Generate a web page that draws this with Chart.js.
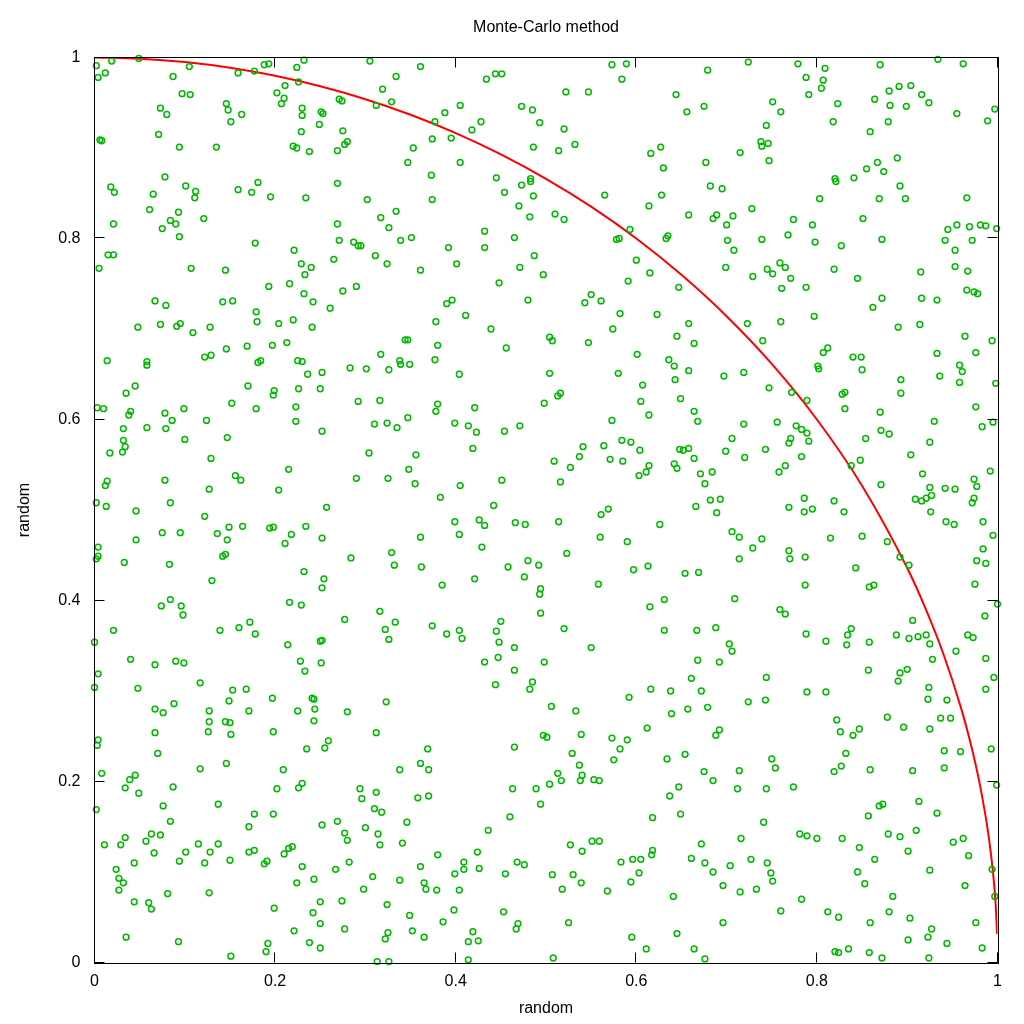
<!DOCTYPE html>
<html>
<head>
<meta charset="utf-8">
<script src="https://cdn.jsdelivr.net/npm/chart.js@4.4.0/dist/chart.umd.min.js"></script>
<style>
html, body { margin: 0; padding: 0; background: #fff; }
#wrap { width: 1024px; height: 1024px; }
</style>
</head>
<body>
<div id="wrap"><canvas id="mcChart" width="1024" height="1024"></canvas></div>
<script>
// random sample points
var pointX = [
0.002,0.019,0.049,0.004,0.012,0.087,0.105,0.159,0.177,0.188,
0.193,0.224,0.232,0.305,0.226,0.211,0.202,0.210,0.207,0.097,
0.106,0.073,0.080,0.146,0.148,0.163,0.151,0.230,0.230,0.251,
0.253,0.249,0.271,0.274,0.319,0.312,0.229,0.275,0.071,0.006,
0.008,0.094,0.135,0.220,0.224,0.238,0.269,0.277,0.280,0.078,
0.018,0.022,0.065,0.101,0.112,0.111,0.159,0.174,0.181,0.195,
0.234,0.269,0.302,0.061,0.093,0.121,0.084,0.090,0.075,0.021,
0.094,0.178,0.269,0.271,0.317,0.326,0.287,0.292,0.295,0.311,
0.324,0.015,0.021,0.005,0.107,0.145,0.221,0.229,0.240,0.233,
0.265,0.193,0.216,0.232,0.242,0.275,0.290,0.261,0.067,0.079,
0.142,0.153,0.179,0.180,0.204,0.220,0.241,0.048,0.073,0.091,
0.095,0.109,0.128,0.146,0.169,0.197,0.213,
0.329,0.334,0.361,0.434,0.444,0.451,0.573,0.589,0.584,0.522,
0.547,0.644,0.656,0.405,0.388,0.377,0.473,0.485,0.493,0.428,
0.418,0.374,0.395,0.353,0.347,0.405,0.373,0.486,0.514,0.532,
0.520,0.616,0.627,0.630,0.445,0.483,0.483,0.473,0.454,0.486,
0.374,0.334,0.470,0.482,0.510,0.520,0.565,0.614,0.628,0.658,
0.432,0.339,0.351,0.392,0.432,0.465,0.593,0.578,0.581,0.633,
0.635,0.487,0.401,0.361,0.471,0.497,0.600,0.615,0.448,0.591,
0.647,0.550,0.543,0.561,0.396,0.390,0.480,0.411,0.378,0.582,
0.623,0.658,0.439,0.574,0.645,0.344,0.347,0.380,0.456,0.504,
0.507,0.547,
0.679,0.724,0.779,0.809,0.788,0.807,0.805,0.791,0.870,0.934,
0.962,0.675,0.751,0.760,0.823,0.818,0.864,0.880,0.891,0.904,
0.916,0.924,0.881,0.899,0.879,0.859,0.955,0.989,0.997,0.744,
0.738,0.739,0.746,0.747,0.715,0.677,0.682,0.695,0.820,0.821,
0.841,0.855,0.867,0.874,0.889,0.892,0.803,0.869,0.898,0.966,
0.728,0.689,0.685,0.707,0.700,0.774,0.795,0.851,0.701,0.708,
0.739,0.768,0.798,0.827,0.872,0.945,0.955,0.969,0.981,0.987,
0.999,0.942,0.972,0.953,0.699,0.729,0.745,0.751,0.759,0.765,
0.771,0.761,0.788,0.819,0.845,0.915,0.953,0.967,0.966,0.974,
0.978,0.872,0.862,0.916,0.933,0.723,0.760,0.797,0.890,0.914,
0.964,0.994,0.664,0.740,0.812,0.807,0.976,0.933,
0.014,0.058,0.058,0.122,0.129,0.181,0.184,0.225,0.230,0.317,
0.252,0.236,0.283,0.301,0.326,0.045,0.035,0.170,0.199,0.198,
0.226,0.250,0.003,0.010,0.040,0.038,0.078,0.099,0.152,0.179,
0.223,0.292,0.316,0.032,0.058,0.079,0.086,0.124,0.223,0.252,
0.310,0.324,0.032,0.034,0.031,0.017,0.100,0.147,0.129,0.304,
0.215,0.014,0.012,0.078,0.156,0.162,0.127,0.204,0.290,0.325,
0.002,0.013,0.046,0.084,0.122,0.257,0.075,0.095,0.046,0.136,
0.149,0.164,0.194,0.198,0.234,0.147,0.218,0.211,0.252,0.004,
0.004,0.002,0.033,0.083,0.142,0.145,0.284,0.130,0.232,0.254,
0.252,0.084,0.074,0.096,0.098,0.216,0.229,0.021,0.139,0.160,
0.172,0.178,0.277,0.316,0.322,0.326,0.000,0.214,0.250,0.252,
0.338,0.339,0.349,0.377,0.404,0.504,0.580,0.601,0.636,0.642,
0.658,0.643,0.607,0.605,0.614,0.649,0.380,0.378,0.421,0.498,
0.513,0.516,0.347,0.335,0.399,0.414,0.423,0.454,0.471,0.573,
0.356,0.348,0.419,0.355,0.405,0.451,0.509,0.527,0.537,0.541,
0.564,0.571,0.584,0.594,0.585,0.604,0.614,0.611,0.603,0.648,
0.652,0.658,0.642,0.645,0.516,0.383,0.442,0.561,0.569,0.626,
0.399,0.426,0.432,0.466,0.477,0.514,0.361,0.404,0.429,0.560,
0.590,0.329,0.332,0.362,0.523,0.480,0.458,0.492,0.476,0.421,
0.385,0.494,0.493,0.558,0.597,0.613,0.654,0.631,0.615,0.494,
0.333,0.374,0.390,0.404,0.407,0.445,0.450,0.448,0.465,0.520,
0.550,0.631,
0.840,0.849,0.801,0.802,0.850,0.697,0.719,0.747,0.772,0.789,
0.828,0.831,0.831,0.893,0.893,0.936,0.958,0.961,0.958,0.998,
0.976,0.664,0.668,0.719,0.756,0.777,0.783,0.789,0.791,0.771,
0.769,0.706,0.699,0.720,0.743,0.783,0.664,0.870,0.930,0.983,
0.995,0.871,0.880,0.854,0.925,0.904,0.765,0.758,0.838,0.848,
0.671,0.684,0.676,0.992,0.917,0.871,0.925,0.942,0.953,0.974,
0.977,0.682,0.693,0.666,0.689,0.786,0.769,0.786,0.795,0.819,
0.830,0.909,0.916,0.921,0.927,0.926,0.974,0.972,0.943,0.952,
0.984,0.706,0.714,0.739,0.729,0.815,0.850,0.995,0.769,0.770,
0.787,0.714,0.878,0.892,0.902,0.843,0.984,0.977,0.987,0.669,
0.787,0.858,0.863,0.975,0.709,1.000,0.759,0.765,0.986,0.906,
0.667,0.688,0.838,0.834,0.788,0.810,0.858,0.833,0.888,0.902,
0.912,0.921,0.925,0.967,0.973,0.703,0.706,0.954,
0.040,0.067,0.090,0.099,0.004,0.000,0.048,0.117,0.153,0.168,
0.149,0.228,0.251,0.233,0.197,0.241,0.243,0.244,0.225,0.171,
0.127,0.088,0.067,0.076,0.127,0.145,0.150,0.126,0.151,0.067,
0.243,0.280,0.323,0.312,0.198,0.259,0.255,0.235,0.004,0.003,
0.070,0.146,0.117,0.209,0.008,0.045,0.039,0.034,0.049,0.087,
0.230,0.226,0.202,0.294,0.312,0.296,0.002,0.076,0.137,0.177,
0.198,0.310,0.318,0.084,0.171,0.269,0.252,0.277,0.280,0.300,
0.314,0.316,0.011,0.029,0.034,0.057,0.063,0.073,0.115,0.137,
0.066,0.101,0.128,0.171,0.177,0.210,0.215,0.219,0.044,0.094,
0.122,0.150,0.188,0.191,0.230,0.282,0.267,0.024,0.027,0.032,
0.027,0.224,0.243,0.308,0.298,0.081,0.127,0.044,0.060,0.063,
0.199,0.250,0.274,0.242,0.324,0.250,0.221,0.277,0.325,0.322,
0.035,0.093,0.192,0.190,0.238,0.250,0.151,0.313,0.326,
0.432,0.447,0.498,0.465,0.444,0.485,0.482,0.506,0.533,0.592,
0.616,0.638,0.661,0.639,0.657,0.612,0.497,0.501,0.539,0.573,
0.590,0.582,0.529,0.575,0.634,0.654,0.369,0.361,0.338,0.370,
0.465,0.537,0.540,0.513,0.517,0.538,0.504,0.553,0.559,0.463,
0.489,0.358,0.370,0.494,0.647,0.637,0.618,0.649,0.346,0.460,
0.436,0.341,0.527,0.540,0.551,0.559,0.618,0.617,0.661,0.380,
0.424,0.361,0.409,0.409,0.426,0.399,0.468,0.476,0.455,0.507,
0.530,0.539,0.518,0.568,0.583,0.596,0.605,0.603,0.594,0.338,
0.365,0.367,0.379,0.404,0.641,0.349,0.398,0.386,0.453,0.352,
0.365,0.419,0.414,0.425,0.469,0.467,0.525,0.595,0.611,0.645,
0.414,0.508,
0.668,0.692,0.744,0.672,0.679,0.724,0.743,0.789,0.810,0.857,
0.892,0.900,0.890,0.928,0.924,0.923,0.944,0.987,0.996,0.987,
0.692,0.688,0.822,0.826,0.847,0.840,0.878,0.896,0.925,0.937,
0.948,0.832,0.750,0.754,0.675,0.714,0.685,0.712,0.744,0.774,
0.819,0.827,0.859,0.906,0.941,0.941,0.959,0.993,0.999,0.913,
0.869,0.873,0.857,0.933,0.741,0.672,0.716,0.781,0.789,0.800,
0.828,0.879,0.892,0.910,0.847,0.901,0.951,0.962,0.968,0.676,
0.685,0.704,0.727,0.745,0.749,0.751,0.696,0.715,0.733,0.864,
0.845,0.853,0.925,0.994,0.964,0.997,0.783,0.884,0.760,0.812,
0.824,0.880,0.903,0.696,0.859,0.976,0.927,0.923,0.901,0.944,
0.983,0.664,0.676,0.820,0.824,0.835,0.858,0.872,0.924
];
var pointY = [
0.991,0.996,0.999,0.978,0.983,0.979,0.990,0.983,0.985,0.992,
0.993,0.989,0.997,0.996,0.973,0.969,0.961,0.955,0.949,0.960,
0.959,0.944,0.937,0.949,0.942,0.937,0.929,0.944,0.936,0.940,
0.938,0.926,0.954,0.952,0.965,0.947,0.918,0.919,0.915,0.909,
0.908,0.901,0.901,0.902,0.900,0.896,0.897,0.904,0.907,0.868,
0.857,0.851,0.849,0.858,0.852,0.845,0.854,0.851,0.862,0.846,
0.845,0.861,0.843,0.832,0.829,0.822,0.820,0.816,0.811,0.816,
0.802,0.795,0.816,0.798,0.823,0.812,0.796,0.792,0.792,0.781,
0.772,0.782,0.782,0.767,0.767,0.765,0.787,0.772,0.768,0.760,
0.777,0.747,0.750,0.739,0.730,0.742,0.747,0.723,0.731,0.726,
0.730,0.731,0.719,0.708,0.706,0.710,0.702,0.702,0.705,0.703,
0.706,0.696,0.702,0.678,0.681,0.682,0.685,
0.951,0.979,0.990,0.976,0.982,0.982,0.992,0.993,0.976,0.962,
0.962,0.959,0.940,0.947,0.939,0.929,0.946,0.942,0.928,0.929,
0.920,0.910,0.911,0.900,0.884,0.884,0.870,0.901,0.897,0.904,
0.921,0.894,0.901,0.878,0.867,0.866,0.863,0.859,0.851,0.847,
0.843,0.830,0.836,0.824,0.827,0.821,0.848,0.836,0.848,0.826,
0.808,0.798,0.801,0.790,0.790,0.801,0.810,0.799,0.800,0.800,
0.803,0.781,0.772,0.765,0.768,0.760,0.776,0.762,0.751,0.753,
0.746,0.738,0.729,0.731,0.732,0.728,0.732,0.715,0.708,0.717,
0.716,0.706,0.700,0.700,0.692,0.688,0.688,0.682,0.679,0.691,
0.687,0.685,
0.986,0.995,0.993,0.988,0.978,0.975,0.966,0.959,0.992,0.998,
0.993,0.946,0.951,0.940,0.949,0.929,0.954,0.963,0.968,0.969,
0.959,0.950,0.947,0.946,0.929,0.918,0.938,0.930,0.943,0.925,
0.907,0.902,0.905,0.886,0.895,0.884,0.858,0.855,0.866,0.863,
0.867,0.877,0.884,0.874,0.889,0.858,0.844,0.844,0.844,0.845,
0.833,0.826,0.822,0.825,0.815,0.821,0.815,0.822,0.798,0.787,
0.799,0.804,0.796,0.792,0.799,0.810,0.815,0.813,0.815,0.814,
0.811,0.798,0.798,0.787,0.768,0.758,0.766,0.761,0.773,0.768,
0.756,0.745,0.746,0.766,0.756,0.763,0.769,0.764,0.743,0.741,
0.739,0.734,0.724,0.734,0.732,0.706,0.708,0.714,0.702,0.705,
0.692,0.687,0.684,0.687,0.679,0.674,0.674,0.673,
0.665,0.664,0.660,0.669,0.671,0.663,0.665,0.665,0.664,0.672,
0.652,0.650,0.657,0.656,0.655,0.637,0.629,0.637,0.632,0.627,
0.634,0.634,0.613,0.612,0.609,0.605,0.607,0.612,0.618,0.612,
0.614,0.620,0.621,0.590,0.591,0.590,0.599,0.599,0.598,0.587,
0.595,0.596,0.577,0.570,0.564,0.563,0.578,0.580,0.557,0.563,
0.545,0.532,0.527,0.533,0.538,0.533,0.523,0.522,0.535,0.535,
0.508,0.504,0.499,0.508,0.493,0.503,0.475,0.475,0.467,0.474,
0.481,0.482,0.480,0.481,0.482,0.467,0.473,0.463,0.469,0.459,
0.449,0.446,0.442,0.440,0.449,0.451,0.447,0.422,0.432,0.424,
0.414,0.401,0.394,0.394,0.384,0.398,0.395,0.367,0.367,0.370,
0.376,0.363,0.379,0.388,0.368,0.357,0.354,0.351,0.355,0.356,
0.665,0.661,0.661,0.666,0.650,0.651,0.651,0.672,0.666,0.659,
0.654,0.644,0.638,0.620,0.605,0.623,0.617,0.609,0.613,0.618,
0.626,0.629,0.602,0.591,0.596,0.593,0.586,0.587,0.593,0.599,
0.561,0.545,0.568,0.529,0.527,0.533,0.554,0.547,0.559,0.570,
0.571,0.556,0.577,0.575,0.554,0.566,0.549,0.542,0.538,0.567,
0.566,0.568,0.551,0.546,0.531,0.514,0.505,0.495,0.501,0.484,
0.487,0.489,0.483,0.486,0.484,0.487,0.470,0.473,0.459,0.470,
0.465,0.453,0.439,0.437,0.452,0.444,0.437,0.439,0.426,0.424,
0.417,0.413,0.407,0.418,0.434,0.438,0.430,0.401,0.393,0.386,
0.376,0.372,0.363,0.367,0.358,0.366,0.377,0.354,0.348,0.369,
0.348,0.367,
0.669,0.669,0.659,0.656,0.655,0.648,0.652,0.635,0.630,0.621,
0.628,0.630,0.612,0.644,0.629,0.648,0.660,0.653,0.641,0.640,
0.614,0.609,0.598,0.595,0.597,0.593,0.589,0.585,0.576,0.579,
0.574,0.579,0.565,0.558,0.567,0.559,0.557,0.608,0.598,0.592,
0.597,0.588,0.584,0.579,0.575,0.561,0.549,0.542,0.549,0.555,
0.540,0.542,0.529,0.543,0.540,0.528,0.525,0.524,0.523,0.534,
0.526,0.511,0.512,0.504,0.497,0.513,0.503,0.498,0.501,0.510,
0.498,0.512,0.510,0.513,0.516,0.498,0.513,0.508,0.487,0.484,
0.487,0.476,0.470,0.468,0.458,0.469,0.471,0.472,0.455,0.446,
0.448,0.446,0.465,0.448,0.439,0.436,0.457,0.444,0.441,0.431,
0.417,0.415,0.417,0.418,0.402,0.396,0.390,0.385,0.383,0.378,
0.367,0.370,0.369,0.362,0.363,0.355,0.354,0.351,0.362,0.358,
0.360,0.362,0.352,0.362,0.359,0.352,0.344,0.344,
0.335,0.329,0.333,0.331,0.319,0.304,0.303,0.309,0.301,0.302,
0.289,0.333,0.331,0.322,0.292,0.292,0.291,0.280,0.278,0.278,
0.278,0.286,0.280,0.276,0.266,0.266,0.265,0.255,0.252,0.254,
0.267,0.277,0.288,0.254,0.255,0.245,0.237,0.236,0.246,0.240,
0.231,0.220,0.214,0.213,0.209,0.207,0.202,0.193,0.187,0.194,
0.198,0.193,0.192,0.192,0.188,0.181,0.169,0.173,0.175,0.164,
0.164,0.170,0.166,0.156,0.150,0.156,0.152,0.143,0.135,0.149,
0.142,0.130,0.130,0.130,0.138,0.134,0.142,0.141,0.131,0.131,
0.121,0.122,0.122,0.122,0.124,0.120,0.126,0.128,0.110,0.112,
0.110,0.113,0.109,0.112,0.106,0.111,0.103,0.103,0.093,0.088,
0.080,0.088,0.092,0.095,0.081,0.076,0.077,0.067,0.066,0.059,
0.060,0.067,0.068,0.055,0.064,0.043,0.035,0.037,0.033,0.026,
0.028,0.023,0.021,0.012,0.022,0.016,0.007,0.001,0.001,
0.332,0.337,0.332,0.323,0.307,0.310,0.302,0.283,0.278,0.293,
0.302,0.300,0.314,0.275,0.280,0.259,0.251,0.249,0.252,0.248,
0.246,0.236,0.231,0.224,0.225,0.230,0.236,0.220,0.213,0.213,
0.238,0.218,0.207,0.209,0.201,0.201,0.197,0.202,0.201,0.192,
0.192,0.182,0.184,0.175,0.194,0.184,0.160,0.164,0.155,0.161,
0.146,0.132,0.130,0.123,0.134,0.134,0.124,0.119,0.115,0.119,
0.122,0.106,0.111,0.103,0.104,0.098,0.111,0.108,0.098,0.097,
0.097,0.088,0.081,0.079,0.111,0.114,0.114,0.099,0.089,0.091,
0.088,0.081,0.080,0.080,0.073,0.052,0.058,0.045,0.056,0.035,
0.028,0.034,0.023,0.024,0.043,0.037,0.044,0.028,0.015,0.032,
0.003,0.005,
0.334,0.332,0.315,0.300,0.282,0.288,0.290,0.299,0.299,0.323,
0.320,0.324,0.311,0.335,0.304,0.291,0.290,0.336,0.315,0.302,
0.257,0.251,0.268,0.255,0.258,0.251,0.271,0.260,0.258,0.270,
0.270,0.231,0.225,0.215,0.211,0.212,0.201,0.192,0.192,0.194,
0.211,0.217,0.213,0.212,0.234,0.215,0.233,0.236,0.196,0.178,
0.173,0.175,0.162,0.165,0.155,0.131,0.137,0.142,0.140,0.137,
0.137,0.142,0.139,0.146,0.127,0.123,0.133,0.137,0.118,0.110,
0.100,0.107,0.114,0.110,0.099,0.090,0.085,0.078,0.081,0.114,
0.100,0.087,0.102,0.103,0.085,0.073,0.070,0.073,0.057,0.056,
0.050,0.056,0.049,0.044,0.044,0.044,0.037,0.028,0.025,0.021,
0.016,0.015,0.004,0.012,0.011,0.015,0.011,0.005,0.005
];

// quarter circle, x and y
var curveX = [0, 0.05, 0.1, 0.15, 0.2, 0.25, 0.3, 0.35, 0.4, 0.45, 0.5, 0.55, 0.6, 0.65, 0.7,
              0.75, 0.8, 0.85, 0.9, 0.92, 0.94, 0.96, 0.97, 0.98, 0.99, 0.995, 0.998, 0.9995];
var curveY = [1, 0.9987, 0.995, 0.9887, 0.9798, 0.9682, 0.9539, 0.9367, 0.9165, 0.893, 0.866, 0.8352, 0.8, 0.7599, 0.7141,
              0.6614, 0.6, 0.5268, 0.4359, 0.3919, 0.3412, 0.28, 0.2431, 0.199, 0.1411, 0.0999, 0.0632, 0.0316];

var tickValues = [0, 0.2, 0.4, 0.6, 0.8, 1];
var tickLabels = ['0', '0.2', '0.4', '0.6', '0.8', '1'];

var samples = pointX.map(function (x, i) { return { x: x, y: pointY[i] }; });
var circle = curveX.map(function (x, i) { return { x: x, y: curveY[i] }; });

Chart.defaults.font.family = "'Liberation Sans', Arial, sans-serif";
Chart.defaults.font.size = 16;
Chart.defaults.color = '#000';

// gnuplot style frame with ticks pointing inwards on all four sides
var frame = {
    id: 'frame',
    afterDatasetsDraw: function (chart) {
        var ctx = chart.ctx, a = chart.chartArea;
        var sx = chart.scales.x, sy = chart.scales.y;
        ctx.save();
        ctx.strokeStyle = '#000';
        ctx.lineWidth = 1;
        ctx.strokeRect(Math.round(a.left) - 0.5, Math.round(a.top) - 0.5,
                       Math.round(a.right - a.left) + 1, Math.round(a.bottom - a.top) + 1);
        ctx.beginPath();
        tickValues.forEach(function (v) {
            var px = Math.round(sx.getPixelForValue(v)) - 0.5;
            ctx.moveTo(px, a.bottom); ctx.lineTo(px, a.bottom - 10);
            ctx.moveTo(px, a.top); ctx.lineTo(px, a.top + 10);
            var py = Math.round(sy.getPixelForValue(v)) - 0.5;
            ctx.moveTo(a.left, py); ctx.lineTo(a.left + 10, py);
            ctx.moveTo(a.right, py); ctx.lineTo(a.right - 10, py);
        });
        ctx.stroke();
        ctx.restore();
    }
};

function fixedTicks(scale) {
    scale.ticks = tickValues.map(function (v) { return { value: v }; });
}

new Chart(document.getElementById('mcChart').getContext('2d'), {
    type: 'scatter',
    data: {
        datasets: [{
            data: samples,
            pointStyle: 'circle',
            pointRadius: 2.9,
            borderWidth: 1.5,
            borderColor: '#00b800',
            backgroundColor: 'rgba(0,0,0,0)',
            clip: 6,
            order: 0
        }, {
            data: circle,
            showLine: true,
            borderColor: '#ff0000',
            borderWidth: 2,
            pointRadius: 0,
            cubicInterpolationMode: 'monotone',
            order: 1
        }]
    },
    options: {
        responsive: false,
        animation: false,
        devicePixelRatio: 1,
        events: [],
        layout: { padding: { right: 26.5 } },
        plugins: {
            legend: { display: false },
            tooltip: { enabled: false },
            title: {
                display: true,
                fullSize: false,
                text: 'Monte-Carlo method',
                color: '#000',
                font: { size: 16, weight: 'normal' },
                padding: { top: 18, bottom: 20.3 }
            }
        },
        scales: {
            x: {
                type: 'linear', min: 0, max: 1,
                afterBuildTicks: fixedTicks,
                afterFit: function (s) { s.height = 61.5; },
                grid: { display: false, drawTicks: false },
                border: { display: false },
                ticks: {
                    autoSkip: false, maxRotation: 0, padding: 9, color: '#000',
                    callback: function (v, i) { return tickLabels[i]; }
                },
                title: { display: true, text: 'random', color: '#000', padding: { top: 0, bottom: 6 } }
            },
            y: {
                type: 'linear', min: 0, max: 1,
                afterBuildTicks: fixedTicks,
                afterFit: function (s) { s.width = 94.5; },
                grid: { display: false, drawTicks: false },
                border: { display: false },
                ticks: {
                    autoSkip: false, padding: 14, color: '#000',
                    callback: function (v, i) { return tickLabels[i]; }
                },
                title: { display: true, text: 'random', color: '#000', padding: { top: 15, bottom: 0 } }
            }
        }
    },
    plugins: [frame]
});
</script>
</body>
</html>
